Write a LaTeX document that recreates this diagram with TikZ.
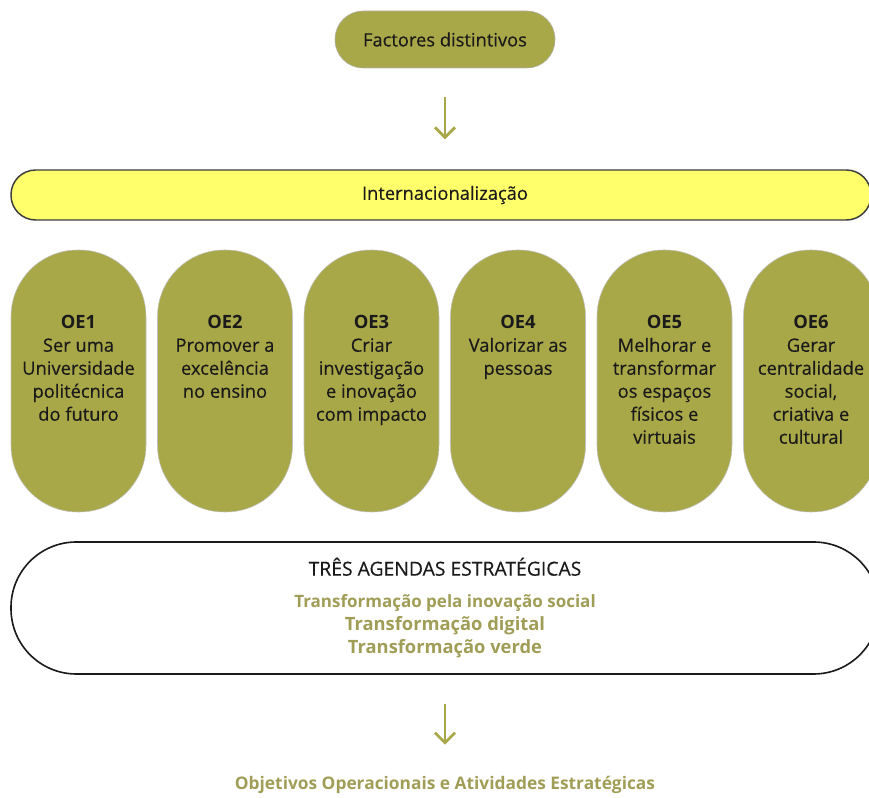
\documentclass[tikz,border=0pt]{standalone}
\usepackage{fontspec}
\setmainfont{Open Sans}[UprightFeatures={FakeBold=0.4}]
\usetikzlibrary{arrows.meta}

\definecolor{olivefill}{RGB}{169,168,72}
\definecolor{olivetext}{RGB}{160,158,86}
\definecolor{barfill}{RGB}{255,255,107}
\definecolor{inkdark}{RGB}{26,26,26}

\tikzset{every picture/.style={line width=0.75pt}}
\tikzset{
  basefont/.style={font=\fontsize{13.75}{17.25}\selectfont, text=inkdark},
  topbox/.style={basefont, draw=black!30, line width=0.4pt, fill=olivefill,
    rounded corners=21pt, minimum width=165pt, minimum height=42.75pt, inner sep=0pt},
  intlbar/.style={draw=inkdark!85, line width=1.1pt, fill=barfill,
    rounded corners=18.5pt, minimum width=645pt, minimum height=37.5pt, inner sep=0pt},
  oepill/.style={draw=black!25, line width=0.4pt, fill=olivefill,
    rounded corners=50pt, minimum width=101.25pt, minimum height=196.5pt, inner sep=0pt},
  oetext/.style={basefont, anchor=north, align=center, inner sep=0pt},
  agendabox/.style={basefont, draw=inkdark, line width=1.2pt, fill=white, align=center,
    rounded corners=49pt, minimum width=651pt, minimum height=99pt, inner sep=0pt},
  flowarrow/.style={draw=olivefill, line width=2pt, -{Straight Barb[length=7.5pt,width=15pt]}},
}

\begin{document}
\begin{tikzpicture}[x=0.75pt,y=0.75pt,yscale=-1,xscale=1]
\useasboundingbox (0,0) rectangle (869,798);
\clip (0,0) rectangle (869,798);

% Factores distintivos
\node[topbox] (fact) at (445,39.5) {Factores distintivos};
% Internacionalizacao bar
\node[intlbar] (intl) at (441,195) {};
\node[basefont, inner sep=0pt] (intlt) at (445,195) {Internacionalização};
% Arrow down
\draw[flowarrow, shorten <=21.75pt, shorten >=22.5pt] (fact.south) -- (fact.south |- intl.north);

% OE1
\node[oepill] (oe1) at (78.5,381) {};
\node[oetext] (oe1t) at ([yshift=48.9pt]oe1.north) {\textbf{OE1}\\Ser uma\\Universidade\\politécnica\\do futuro};
% OE2
\node[oepill] (oe2) at (225,381) {};
\node[oetext] (oe2t) at ([yshift=48.9pt]oe2.north) {\textbf{OE2}\\Promover a\\excelência\\no ensino};
% OE3
\node[oepill] (oe3) at (371.5,381) {};
\node[oetext] (oe3t) at ([yshift=48.9pt]oe3.north) {\textbf{OE3}\\Criar\\investigação\\e inovação\\com impacto};
% OE4
\node[oepill] (oe4) at (518,381) {};
\node[oetext] (oe4t) at ([yshift=48.9pt]oe4.north) {\textbf{OE4}\\Valorizar as\\pessoas};
% OE5
\node[oepill] (oe5) at (664.5,381) {};
\node[oetext] (oe5t) at ([yshift=48.9pt]oe5.north) {\textbf{OE5}\\Melhorar e\\transformar\\os espaços\\físicos e\\virtuais};
% OE6
\node[oepill] (oe6) at (811,381) {};
\node[oetext] (oe6t) at ([yshift=48.9pt]oe6.north) {\textbf{OE6}\\Gerar\\centralidade\\social,\\criativa e\\cultural};

% Tres agendas
\node[agendabox] (agenda) at (445,608) {{\fontsize{14.5}{17.25}\selectfont TRÊS AGENDAS ESTRATÉGICAS}\\[7pt]
  \fontsize{12.75}{17.25}\selectfont
  \textcolor{olivetext}{\textbf{Transformação pela inovação social}}\\
  \textcolor{olivetext}{\textbf{Transformação digital}}\\
  \textcolor{olivetext}{\textbf{Transformação verde}}};

% Objetivos operacionais
\node[basefont, anchor=base, inner sep=0.75pt, text=olivetext, font=\fontsize{13}{17.25}\selectfont\bfseries] (objop) at (445,790) {Objetivos Operacionais e Atividades Estratégicas};
% Arrow down
\draw[flowarrow, shorten <=21.75pt, shorten >=23pt] (agenda.south) -- (objop.north);

\end{tikzpicture}
\end{document}
